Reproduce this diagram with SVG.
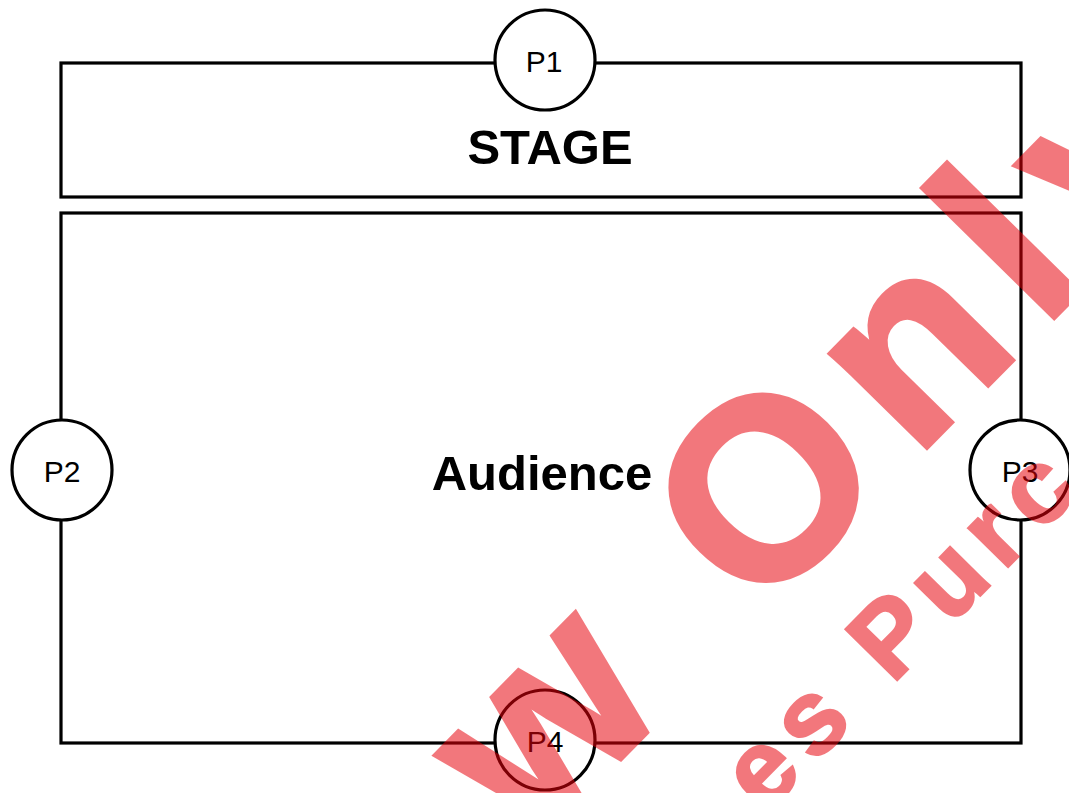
<svg xmlns="http://www.w3.org/2000/svg" width="1069" height="793" viewBox="0 0 1069 793">
  <style>
    .box { fill: none; stroke: #000; stroke-width: 3.2; }
    .port { fill: #fff; stroke: #000; stroke-width: 3.2; }
    .plabel { font-family: "Liberation Sans", Arial, sans-serif; font-size: 30px; fill: #000; text-anchor: middle; }
    .title { font-family: "Liberation Sans", Arial, sans-serif; font-weight: bold; fill: #000; text-anchor: middle; }
    .wm { font-family: "Liberation Sans", Arial, sans-serif; font-weight: bold; fill: #e8000a; stroke: #e8000a; stroke-linejoin: miter; stroke-miterlimit: 2; }
  </style>
  <rect width="1069" height="793" fill="#fff"/>
  <g id="stage">
    <rect class="box" x="61" y="63" width="960" height="134"/>
    <text class="title" x="550" y="164" font-size="49">STAGE</text>
  </g>
  <g id="audience">
    <rect class="box" x="61" y="213" width="960" height="530"/>
    <text class="title" x="542" y="490" font-size="49">Audience</text>
  </g>
  <g id="connectors"></g>
  <g id="p1">
    <circle class="port" cx="545" cy="60" r="50"/>
    <text class="plabel" x="544" y="72">P1</text>
  </g>
  <g id="p2">
    <circle class="port" cx="62" cy="470" r="50"/>
    <text class="plabel" x="62" y="482">P2</text>
  </g>
  <g id="p3">
    <circle class="port" cx="1020" cy="470" r="50"/>
    <text class="plabel" x="1020" y="482">P3</text>
  </g>
  <g id="p4">
    <circle class="port" cx="545" cy="740" r="50"/>
    <text class="plabel" x="545" y="752">P4</text>
  </g>
  <g id="watermark" opacity="0.53">
    <text class="wm" transform="translate(532,849) rotate(-45.5)" font-size="255" letter-spacing="26" stroke-width="5">w Only</text>
    <text class="wm" transform="translate(764.6,814.7) rotate(-45.5)" font-size="105" letter-spacing="12" stroke-width="2.5">es Purc</text>
  </g>
</svg>
